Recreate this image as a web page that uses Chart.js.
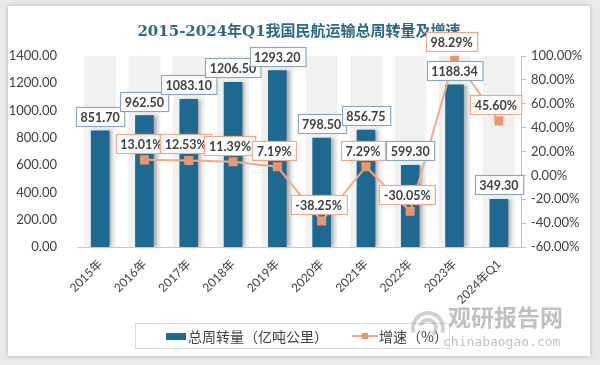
<!DOCTYPE html>
<html>
<head>
<meta charset="utf-8">
<script src="https://cdn.jsdelivr.net/npm/chart.js@4.4.1/dist/chart.umd.min.js"></script>
<style>
  html, body { margin: 0; padding: 0; width: 600px; height: 365px; background: #e9e9e9; overflow: hidden; }
  #card { position: absolute; left: 8px; top: 6px; width: 582px; height: 350px; background: #ffffff;
          box-shadow: 0 0 4px rgba(0,0,0,0.25); }
  canvas { display: block; }
</style>
</head>
<body>
<div id="card"><canvas id="c" width="582" height="350"></canvas></div>
<script>
// ---- data ----
const titleText = '2015-2024年Q1我国民航运输总周转量及增速';
const categories = ['2015年', '2016年', '2017年', '2018年', '2019年', '2020年', '2021年', '2022年', '2023年', '2024年Q1'];
const volume = [851.70, 962.50, 1083.10, 1206.50, 1293.20, 798.50, 856.75, 599.30, 1188.34, 349.30];
const growth = [null, 13.01, 12.53, 11.39, 7.19, -38.25, 7.29, -30.05, 98.29, 45.60];
const volumeLabel = '总周转量（亿吨公里）';
const growthLabel = '增速（%）';
const leftAxis = { min: 0, max: 1400, step: 200 };
const rightAxis = { min: -60, max: 100, step: 20 };
const watermarkCn = '观研报告网';
const watermarkEn = 'chinabaogao.com';

const FONT = "Lato, 'Noto Sans CJK SC', sans-serif";
const BAR_COLOR = '#1d6991';
const LINE_COLOR = '#f2aa86';
const POINT_COLOR = '#ec9670';

const bgBands = {
  id: 'bgBands',
  beforeDatasetsDraw(chart) {
    const { ctx, chartArea: a, scales } = chart;
    ctx.save();
    ctx.fillStyle = '#f1f1f1';
    categories.forEach((c, i) => {
      const x = scales.x.getPixelForValue(i);
      ctx.fillRect(x - 16, a.top, 32, a.bottom - a.top);
    });
    ctx.restore();
  }
};

const barShadow = {
  id: 'barShadow',
  beforeDatasetDraw(chart, args) {
    if (chart.data.datasets[args.index].type === 'bar') {
      const ctx = chart.ctx;
      ctx.save();
      ctx.shadowColor = 'rgba(0,0,0,0.28)';
      ctx.shadowOffsetX = 3;
      ctx.shadowOffsetY = 0;
      ctx.shadowBlur = 3;
    }
  },
  afterDatasetDraw(chart, args) {
    if (chart.data.datasets[args.index].type === 'bar') chart.ctx.restore();
  }
};

function drawBoxLabel(ctx, text, cx, bottom, border) {
  ctx.font = "bold 12.5px " + FONT;
  const w = ctx.measureText(text).width + 9;
  const h = 19;
  const x = Math.round(cx - w / 2) + 0.5;
  const y = Math.round(bottom - h) + 0.5;
  ctx.fillStyle = '#ffffff';
  ctx.fillRect(x, y, w, h);
  ctx.strokeStyle = border;
  ctx.lineWidth = 1.2;
  ctx.strokeRect(x, y, w, h);
  ctx.fillStyle = '#404040';
  ctx.textAlign = 'center';
  ctx.textBaseline = 'middle';
  ctx.fillText(text, cx, y + h / 2 + 0.5);
}

const dataLabels = {
  id: 'dataLabels',
  afterDatasetsDraw(chart) {
    const ctx = chart.ctx;
    ctx.save();
    const barMeta = chart.getDatasetMeta(0);
    barMeta.data.forEach((el, i) => {
      drawBoxLabel(ctx, volume[i].toFixed(2), el.x, el.y - 5, '#88a8bb');
    });
    const lineMeta = chart.getDatasetMeta(1);
    lineMeta.data.forEach((el, i) => {
      if (growth[i] === null) return;
      drawBoxLabel(ctx, growth[i].toFixed(2) + '%', el.x - 3, el.y - 7, '#efa888');
    });
    ctx.restore();
  }
};

const customLegend = {
  id: 'customLegend',
  afterDraw(chart) {
    const ctx = chart.ctx;
    ctx.save();
    // legend box
    ctx.strokeStyle = '#dcdcdc';
    ctx.lineWidth = 1;
    ctx.strokeRect(127.5, 317.5, 314, 25);
    const cy = 330;
    ctx.fillStyle = BAR_COLOR;
    ctx.fillRect(158, cy - 3, 20, 7);
    ctx.fillStyle = '#404040';
    ctx.font = "14px 'Noto Sans CJK SC', sans-serif";
    ctx.textAlign = 'left';
    ctx.textBaseline = 'middle';
    ctx.fillText(volumeLabel, 180, cy + 1);
    ctx.strokeStyle = LINE_COLOR;
    ctx.lineWidth = 2;
    ctx.beginPath(); ctx.moveTo(344, cy); ctx.lineTo(370, cy); ctx.stroke();
    ctx.fillStyle = POINT_COLOR;
    ctx.fillRect(354, cy - 3, 6, 6);
    ctx.fillStyle = '#404040';
    ctx.fillText(growthLabel, 371, cy + 1);

    // watermark (drawn on top, semi-transparent)
    ctx.fillStyle = 'rgba(140,140,140,0.55)';
    ctx.font = "bold 23px 'Noto Sans CJK SC', sans-serif";
    ctx.fillText(watermarkCn, 440, 311);
    ctx.font = "13px 'DejaVu Sans Mono', monospace";
    ctx.fillText(watermarkEn, 435, 337);
    ctx.strokeStyle = 'rgba(150,150,150,0.45)';
    ctx.lineWidth = 4;
    ctx.beginPath(); ctx.arc(420, 322, 15, Math.PI * 0.9, Math.PI * 2.1); ctx.stroke();
    ctx.beginPath(); ctx.arc(420, 322, 8, Math.PI * 1.1, Math.PI * 2.3); ctx.stroke();
    ctx.restore();
  }
};

new Chart(document.getElementById('c'), {
  data: {
    labels: categories,
    datasets: [
      {
        type: 'bar',
        label: volumeLabel,
        data: volume,
        backgroundColor: BAR_COLOR,
        barThickness: 18,
        yAxisID: 'yL',
        order: 1
      },
      {
        type: 'line',
        label: growthLabel,
        data: growth,
        borderColor: LINE_COLOR,
        borderWidth: 2,
        pointStyle: 'rect',
        pointRadius: 5,
        pointBackgroundColor: POINT_COLOR,
        pointBorderColor: POINT_COLOR,
        tension: 0,
        yAxisID: 'yR',
        order: 0
      }
    ]
  },
  options: {
    responsive: false,
    animation: false,
    layout: { padding: 0 },
    plugins: {
      legend: { display: false },
      tooltip: { enabled: false },
      title: {
        display: true,
        text: titleText,
        color: '#2d6a87',
        font: { family: "'DejaVu Serif', 'Noto Sans CJK SC', serif", size: 15, weight: 'bold' },
        padding: { top: 17, bottom: 15 }
      }
    },
    scales: {
      x: {
        grid: { display: false },
        border: { display: true, color: '#c8c8c8' },
        ticks: { color: '#404040', font: { family: FONT, size: 12 }, minRotation: 45, maxRotation: 45, padding: 2 },
        afterFit(s) { s.height = 109; }
      },
      yL: {
        position: 'left',
        min: leftAxis.min, max: leftAxis.max,
        grid: { display: false },
        border: { display: false },
        ticks: { stepSize: leftAxis.step, color: '#404040', font: { family: FONT, size: 13 }, padding: 13,
                 callback: v => Number(v).toFixed(2) },
        afterFit(s) { s.width = 70; }
      },
      yR: {
        position: 'right',
        min: rightAxis.min, max: rightAxis.max,
        grid: { drawOnChartArea: false, drawTicks: true, tickLength: 5, color: '#bfbfbf' },
        border: { display: true, color: '#bfbfbf' },
        ticks: { stepSize: rightAxis.step, color: '#404040', font: { family: FONT, size: 13 }, padding: 5,
                 callback: v => Number(v).toFixed(2) + '%' },
        afterFit(s) { s.width = 69; }
      }
    }
  },
  plugins: [bgBands, barShadow, dataLabels, customLegend]
});
</script>
</body>
</html>
